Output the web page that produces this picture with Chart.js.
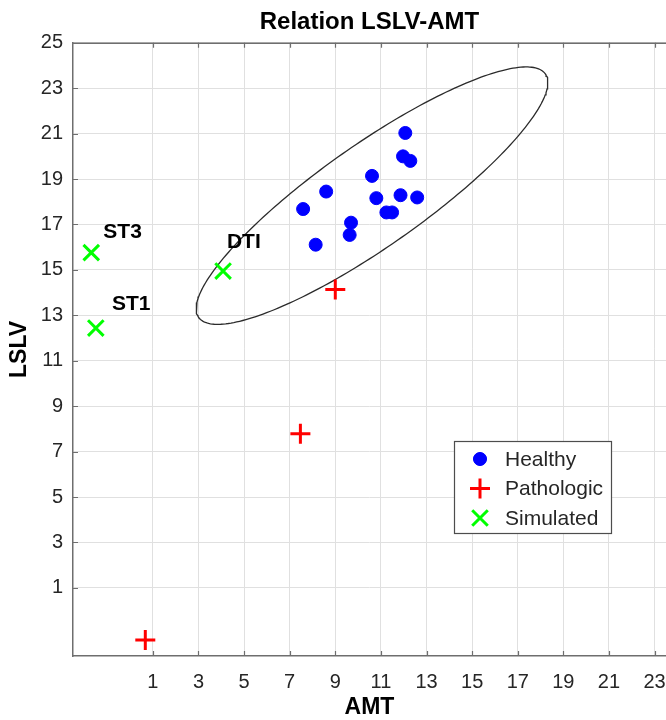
<!DOCTYPE html>
<html>
<head>
<meta charset="utf-8">
<script src="https://cdn.jsdelivr.net/npm/chart.js@4.4.1/dist/chart.umd.min.js"></script>
<style>
  html, body { margin: 0; padding: 0; background: #ffffff; }
  #wrap { width: 666px; height: 720px; position: relative; }
</style>
</head>
<body>
<div id="wrap"><canvas id="c" width="666" height="720"></canvas></div>
<script>
// ---- Data ----
const healthyAMT  = [12.07, 11.97, 12.29, 10.61, 8.60, 7.59, 10.80, 11.86, 12.59, 11.24, 11.49, 9.69, 9.63, 8.14];
const healthyLSLV = [21.03, 20.00, 19.80, 19.14, 18.45, 17.68, 18.16, 18.29, 18.19, 17.53, 17.53, 17.08, 16.54, 16.11];

const pathologicAMT  = [9.00, 7.47, 0.67];
const pathologicLSLV = [14.14, 7.79, -1.29];

const simulatedAMT   = [-1.70, -1.50, 4.08];
const simulatedLSLV  = [15.76, 12.44, 14.95];
const simulatedNames = ['ST3', 'ST1', 'DTI'];
const simulatedLabelAMT  = [-1.17, -0.79, 4.25];
const simulatedLabelLSLV = [16.66, 13.48, 16.23];

// confidence ellipse (center, semi-axes, rotation in data units)
const ellipseCenter = [10.61, 18.27];
const ellipseSemiAxes = [9.3, 2.25];
const ellipseAngleDeg = 35.2;

const xTicks = [1, 3, 5, 7, 9, 11, 13, 15, 17, 19, 21, 23];
const yTicks = [1, 3, 5, 7, 9, 11, 13, 15, 17, 19, 21, 23, 25];
const xRange = [-2.5, 23.5];
const yRange = [-2, 25];

const seriesNames = ['Healthy', 'Pathologic', 'Simulated'];

// ---- build datasets ----
const zip = (xs, ys) => xs.map((x, i) => ({ x: x, y: ys[i] }));
function ellipsePoints() {
  const th = ellipseAngleDeg * Math.PI / 180;
  const pts = [];
  const n = 240;
  for (let i = 0; i <= n; i++) {
    const t = 2 * Math.PI * i / n;
    const a = ellipseSemiAxes[0] * Math.cos(t);
    const b = ellipseSemiAxes[1] * Math.sin(t);
    pts.push({
      x: ellipseCenter[0] + a * Math.cos(th) - b * Math.sin(th),
      y: ellipseCenter[1] + a * Math.sin(th) + b * Math.cos(th)
    });
  }
  return pts;
}

const FONT = "'Liberation Sans', Arial, Helvetica, sans-serif";
const TEXT = '#262626';
const AXIS = '#6e6e6e';

const markerStyles = [
  { pointStyle: 'circle', radius: 6.5, color: '#0000ff', width: 1 },
  { pointStyle: 'cross', radius: 10, color: '#ff0000', width: 3 },
  { pointStyle: 'crossRot', radius: 11, color: '#00ff00', width: 3 }
];

const datasets = [
  { label: seriesNames[0], data: zip(healthyAMT, healthyLSLV) },
  { label: seriesNames[1], data: zip(pathologicAMT, pathologicLSLV) },
  { label: seriesNames[2], data: zip(simulatedAMT, simulatedLSLV) }
].map((d, i) => Object.assign(d, {
  pointStyle: markerStyles[i].pointStyle,
  pointRadius: markerStyles[i].radius,
  pointHoverRadius: markerStyles[i].radius,
  pointBackgroundColor: markerStyles[i].color,
  pointBorderColor: markerStyles[i].color,
  pointBorderWidth: markerStyles[i].width,
  showLine: false,
  order: i
}));

datasets.push({
  label: 'ellipse',
  data: ellipsePoints(),
  showLine: true,
  borderColor: '#2b2b2b',
  borderWidth: 1.3,
  pointRadius: 0,
  fill: false,
  tension: 0,
  order: 10
});

// ---- plugins ----
const frameTicks = {
  id: 'frameTicks',
  afterDatasetsDraw(chart) {
    const { ctx, chartArea: ca, scales } = chart;
    ctx.save();
    ctx.strokeStyle = AXIS;
    ctx.lineWidth = 1.5;
    ctx.beginPath();
    ctx.moveTo(ca.left, ca.top + 0.5);
    ctx.lineTo(ca.right, ca.top + 0.5);
    ctx.stroke();
    ctx.lineWidth = 1.2;
    const L = 5;
    ctx.beginPath();
    xTicks.forEach(v => {
      const px = Math.round(scales.x.getPixelForValue(v)) + 0.5;
      ctx.moveTo(px, ca.bottom); ctx.lineTo(px, ca.bottom - L);
      ctx.moveTo(px, ca.top); ctx.lineTo(px, ca.top + L);
    });
    yTicks.forEach(v => {
      const py = Math.round(scales.y.getPixelForValue(v)) + 0.5;
      ctx.moveTo(ca.left, py); ctx.lineTo(ca.left + L, py);
    });
    ctx.stroke();
    ctx.restore();
  }
};

const pointNames = {
  id: 'pointNames',
  afterDatasetsDraw(chart) {
    const { ctx, scales } = chart;
    ctx.save();
    ctx.font = 'bold 21px ' + FONT;
    ctx.fillStyle = '#000000';
    ctx.textAlign = 'left';
    ctx.textBaseline = 'middle';
    simulatedNames.forEach((n, i) => {
      ctx.fillText(n, scales.x.getPixelForValue(simulatedLabelAMT[i]),
                      scales.y.getPixelForValue(simulatedLabelLSLV[i]));
    });
    ctx.restore();
  }
};

const boxLegend = {
  id: 'boxLegend',
  afterDraw(chart) {
    const { ctx } = chart;
    const x0 = 454.5, y0 = 441.5, w = 157, h = 92;
    ctx.save();
    ctx.fillStyle = '#ffffff';
    ctx.fillRect(x0, y0, w, h);
    ctx.strokeStyle = '#4d4d4d';
    ctx.lineWidth = 1.2;
    ctx.strokeRect(x0, y0, w, h);
    ctx.font = '21px ' + FONT;
    ctx.textBaseline = 'middle';
    ctx.textAlign = 'left';
    const rowY = [459, 488.5, 518];
    seriesNames.forEach((name, i) => {
      const m = markerStyles[i];
      ctx.fillStyle = m.color;
      ctx.strokeStyle = m.color;
      ctx.lineWidth = m.width;
      Chart.helpers.drawPoint(ctx, { pointStyle: m.pointStyle, radius: m.radius, borderWidth: m.width }, 480, rowY[i]);
      if (m.pointStyle === 'circle') { ctx.fill(); }
      ctx.fillStyle = TEXT;
      ctx.fillText(name, 505, rowY[i] + 1);
    });
    ctx.restore();
  }
};

new Chart(document.getElementById('c'), {
  type: 'scatter',
  data: { datasets: datasets },
  options: {
    responsive: false,
    animation: false,
    devicePixelRatio: 1,
    layout: { autoPadding: false, padding: { left: 0, right: 0, top: 0, bottom: 0 } },
    plugins: {
      legend: { display: false },
      tooltip: { enabled: false },
      title: {
        display: true,
        text: 'Relation LSLV-AMT',
        fullSize: false,
        color: '#000000',
        font: { family: FONT, size: 24, weight: 'bold', lineHeight: 1.2 },
        padding: { top: 8, bottom: 6 }
      }
    },
    scales: {
      x: {
        type: 'linear',
        min: xRange[0], max: xRange[1],
        afterBuildTicks: s => { s.ticks = xTicks.map(v => ({ value: v })); },
        afterFit: s => { s.height = 64; s.paddingLeft = 0; s.paddingRight = 0; },
        grid: { color: '#e0e0e0', lineWidth: 1, drawTicks: false },
        border: { display: true, color: AXIS, width: 1.5 },
        ticks: { color: TEXT, font: { family: FONT, size: 20 }, padding: 14, autoSkip: false, maxRotation: 0 },
        title: { display: true, text: 'AMT', color: '#000000', font: { family: FONT, size: 23, weight: 'bold', lineHeight: 1.05 }, padding: { top: 0, bottom: 0 } }
      },
      y: {
        type: 'linear',
        min: yRange[0], max: yRange[1],
        afterBuildTicks: s => { s.ticks = yTicks.map(v => ({ value: v })); },
        afterFit: s => { s.width = 73; s.paddingTop = 0; s.paddingBottom = 0; },
        grid: { color: '#e0e0e0', lineWidth: 1, drawTicks: false },
        border: { display: true, color: AXIS, width: 1.5 },
        ticks: { color: TEXT, font: { family: FONT, size: 20 }, padding: 10, autoSkip: false },
        title: { display: true, text: 'LSLV', color: '#000000', font: { family: FONT, size: 23, weight: 'bold', lineHeight: 1.05 }, padding: { top: 8, bottom: 0 } }
      }
    }
  },
  plugins: [frameTicks, pointNames, boxLegend]
});
</script>
</body>
</html>
